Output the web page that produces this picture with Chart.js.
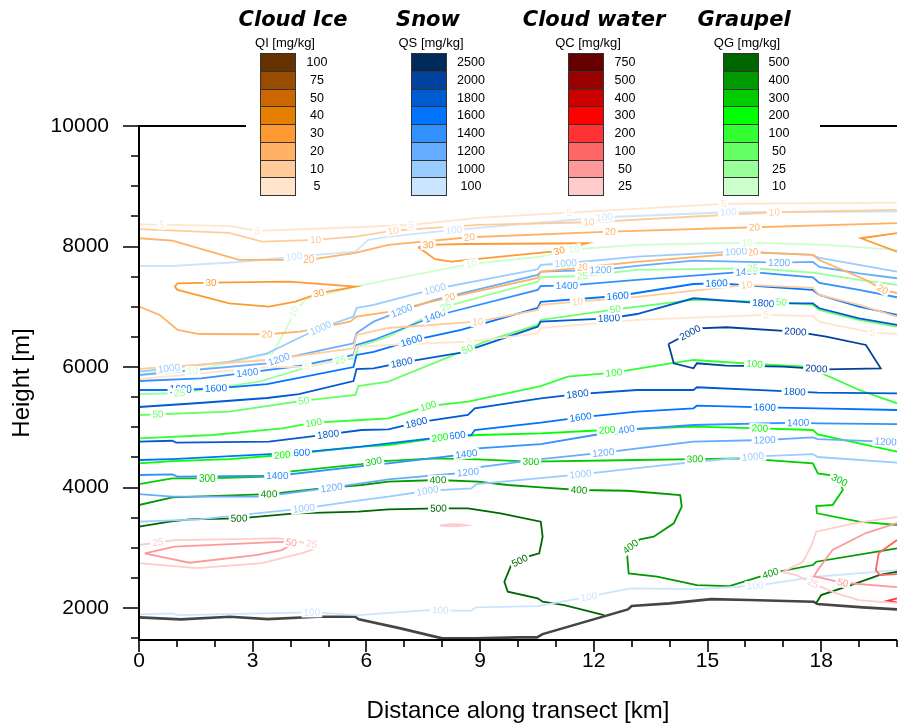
<!DOCTYPE html>
<html>
<head>
<meta charset="utf-8">
<title>Hydrometeor cross-section</title>
<script src="https://cdn.jsdelivr.net/npm/chart.js@4.4.1/dist/chart.umd.min.js"></script>
<style>
  html, body { margin: 0; padding: 0; background: #fff; }
  #wrap { position: relative; width: 901px; height: 726px; overflow: hidden; }
  #xsec { position: absolute; left: 0; top: 0; }
  #cover { position: absolute; left: 246px; top: 0; width: 574px; height: 199px; background: #fff; }
  .kt { position: absolute; font: italic bold 21px 'DejaVu Sans', sans-serif; line-height: 21px; white-space: nowrap; transform: translateX(-50%); color: #000; }
  .ku { position: absolute; font: 13px 'Liberation Sans', Arial, sans-serif; line-height: 13px; white-space: nowrap; transform: translateX(-50%); color: #000; }
  .kb { position: absolute; width: 36px; box-sizing: border-box; border: 1px solid #333; }
  .kl { position: absolute; font: 12.5px 'Liberation Sans', Arial, sans-serif; white-space: nowrap; transform: translateX(-50%); color: #000; }
</style>
</head>
<body>
<div id="wrap">
  <canvas id="xsec" width="901" height="726"></canvas>
  <div id="cover"></div>
</div>
<script>
// -----------------------------
// - Levels and colours (legend order, top to bottom)
// -----------------------------
const qiLevels = [100, 75, 50, 40, 30, 20, 10, 5];
const qiColors = ['#663300', '#994c00', '#cc6600', '#e67e00', '#ff9933', '#ffb266', '#ffcc99', '#ffe5cc'];
const qsLevels = [2500, 2000, 1800, 1600, 1400, 1200, 1000, 100];
const qsColors = ['#002a5c', '#00429d', '#005ad0', '#0073ff', '#3391ff', '#66adff', '#99ccff', '#cce5ff'];
const qcLevels = [750, 500, 400, 300, 200, 100, 50, 25];
const qcColors = ['#660000', '#990000', '#cc0000', '#ff0000', '#ff3333', '#ff6666', '#ff9999', '#ffcccc'];
const qgLevels = [500, 400, 300, 200, 100, 50, 25, 10];
const qgColors = ['#006600', '#009900', '#00cc00', '#00ff00', '#33ff33', '#66ff66', '#99ff99', '#ccffcc'];

// axis ticks: labelled (major) and all tick marks
const xTicks = [0, 3, 6, 9, 12, 15, 18];
const xAllTicks = [0, 1, 2, 3, 4, 5, 6, 7, 8, 9, 10, 11, 12, 13, 14, 15, 16, 17, 18, 19, 20];
const yTicks = [2000, 4000, 6000, 8000, 10000];
const yAllTicks = [1500, 2000, 2500, 3000, 3500, 4000, 4500, 5000, 5500, 6000, 6500, 7000, 7500, 8000, 8500, 9000, 9500, 10000];

// -----------------------------
// - Contour lines, [km, m] pairs
// -----------------------------
const terrain = [[0,1846],[1.1,1812],[2.4,1856],[3.4,1817],[4.7,1856],[5.7,1856],[5.8,1812],[6.9,1663],[8,1497],[8.9,1497],[10,1514],[10.5,1514],[10.65,1568],[12.9,1978],[13,2033],[14,2078],[15.1,2149],[16.1,2133],[17.8,2105],[17.9,2066],[19.1,2012],[20,1978]];

// cloud ice
const qi5Top = [[0,8369],[2.38,8341],[3.12,8258],[5.71,8320],[7.19,8358],[8.94,8474],[11.35,8562],[15.43,8706],[20,8730]];
const qi5TopLab = [[0.6,8365],[3.12,8258],[7.19,8358],[11.35,8562],[15.43,8706]];
const qi10Top = [[0,8287],[2.38,8225],[3.25,8081],[4.66,8109],[5.71,8163],[6.71,8263],[8.94,8358],[11.87,8403],[16.76,8569],[20,8607]];
const qi10TopLab = [[4.66,8109],[6.71,8263],[11.87,8403],[16.76,8569]];
const qi20Top = [[0,8137],[0.88,8097],[2.64,7777],[4.48,7777],[5.71,7893],[6.58,8026],[8.72,8154],[12.44,8247],[16.24,8320],[20,8387]];
const qi20TopLab = [[4.48,7777],[8.72,8154],[12.44,8247],[16.24,8320]];
const qi30Left = [[0.94,7334],[1.02,7390],[1.9,7400],[3.96,7417],[5.71,7334],[4.74,7223],[4.13,7085],[3.43,7002],[2.38,7058],[1.02,7279],[0.94,7334]];
const qi30LeftLab = [[1.9,7400],[4.74,7223]];
const qi30Mid = [[7.37,7988],[7.59,8026],[8.68,8042],[11.83,8054],[11.09,7926],[9.55,7832],[8.24,7749],[7.81,7789],[7.37,7988]];
const qi30MidLab = [[7.63,8010],[11.09,7926]];
const qi30Right = [[20,8221],[19.05,8137],[20,7915]];
const qi20Low = [[0,7002],[0.55,6864],[1.02,6615],[1.59,6548],[3.38,6544],[4.26,6587],[5.57,6753],[5.74,6836],[6.58,6914],[8.2,7158],[10.52,7478],[10.6,7578],[11.7,7656],[13.14,7744],[16.2,7905],[17.78,7860],[17.95,7777],[19.18,7445],[19.62,7290],[20,7224]];
const qi20LowLab = [[3.38,6544],[8.2,7158],[11.7,7656],[16.2,7905],[19.62,7290]];
const qi10Low = [[0,5967],[3.39,6117],[5.66,6311],[5.74,6532],[6.58,6648],[8.94,6753],[10.52,6947],[10.6,7030],[11.57,7085],[13.14,7163],[16.03,7362],[17.78,7312],[17.95,7196],[19,7030],[20,6836]];
const qi10LowLab = [[8.94,6753],[11.57,7085],[16.03,7362]];
const qi5Low = [[0,5801],[3.38,5996],[4.43,6006],[5.66,6167],[5.74,6333],[6.58,6366],[8.72,6421],[10.52,6560],[10.6,6648],[13.14,6781],[16.55,6864],[17.78,6847],[17.95,6748],[19.35,6570],[20,6548]];
const qi5LowLab = [[4.43,6006],[8.72,6421],[16.55,6864],[19.35,6570]];

// snow
const qs100Top = [[0,7677],[0.88,7677],[2.64,7743],[4.09,7832],[5.71,7915],[6.05,8109],[6.58,8164],[8.31,8275],[12.28,8486],[15.55,8569],[20,8579]];
const qs100TopLab = [[4.09,7832],[8.31,8275],[12.28,8486],[15.55,8569]];
const qs1000Top = [[0,5923],[2.38,6089],[3.38,6228],[4.48,6560],[4.79,6648],[5.66,6836],[5.74,6980],[6.19,7030],[7.81,7295],[10.52,7622],[10.6,7694],[11.26,7722],[13.14,7832],[15.75,7915],[17.78,7860],[17.95,7810],[19,7694],[20,7583]];
const qs1000TopLab = [[0.8,5930],[4.79,6648],[7.81,7295],[11.26,7722],[15.75,7915]];
const qs1200Top = [[0,5868],[3.39,6062],[3.69,6128],[5.66,6394],[5.74,6565],[6.19,6753],[6.93,6935],[7.81,7113],[10.52,7528],[10.6,7583],[12.18,7611],[13.14,7677],[14.63,7765],[16.89,7732],[17.78,7744],[17.95,7661],[19,7556],[20,7473]];
const qs1200TopLab = [[3.69,6128],[6.93,6935],[12.18,7611],[16.89,7732]];
const qs1400Top = [[0,5768],[1.64,5813],[2.86,5906],[4.22,6017],[5.66,6200],[5.74,6366],[6.19,6449],[7.81,6847],[10.52,7279],[10.6,7345],[11.29,7350],[13.14,7445],[16.03,7583],[17.78,7490],[17.95,7395],[19,7279],[20,7158]];
const qs1400TopLab = [[2.86,5906],[7.81,6847],[11.29,7350],[16.03,7583]];
const qs1600Top = [[0,5619],[1.1,5619],[2.03,5647],[3.38,5718],[5.66,6000],[5.74,6200],[6.19,6250],[7.19,6437],[8.5,6615],[10.52,6980],[10.6,7080],[12.63,7179],[14.63,7378],[15.24,7390],[17.78,7279],[17.95,7196],[19,7002],[20,6864]];
const qs1600TopLab = [[1.1,5619],[2.03,5647],[7.19,6437],[12.63,7179],[15.24,7390]];
const qs1800Top = [[0,5337],[1.59,5403],[3.38,5486],[4.22,5552],[5.66,5768],[5.74,5967],[6.19,5979],[6.93,6072],[8.5,6238],[10.52,6670],[10.6,6753],[12.4,6809],[13.14,6880],[14.63,7141],[16.47,7058],[17.78,7058],[17.95,6975],[19,6809],[20,6698]];
const qs1800TopLab = [[6.93,6072],[12.4,6809],[16.47,7058]];
const qs2000 = [[13.97,6382],[14.54,6570],[14.76,6643],[15.5,6660],[17.32,6587],[18.13,6504],[19.18,6366],[19.57,5979],[18.13,5962],[16.99,6006],[15.5,6022],[14.72,6062],[14.63,5979],[14.11,6062],[13.97,6382]];
const qs2000Lab = [[14.54,6570],[17.32,6587],[17.87,5962]];
const qs1800Low = [[0,4761],[0.88,4777],[0.98,4744],[3.43,4761],[4.13,4817],[4.99,4883],[5.87,4955],[6.58,4966],[7.32,5076],[8.68,5204],[8.86,5315],[10.6,5481],[11.57,5552],[13.14,5619],[14.63,5619],[14.72,5664],[17.3,5591],[17.91,5574],[20,5564]];
const qs1800LowLab = [[4.99,4883],[7.32,5076],[11.57,5552],[17.3,5591]];
const qs1600Low = [[0,4457],[0.88,4473],[4.22,4578],[5.87,4678],[6.58,4734],[8.33,4860],[8.77,4872],[8.86,4955],[10.6,5076],[11.65,5166],[13.14,5259],[14.63,5315],[14.72,5358],[16.51,5332],[17.91,5315],[20,5287]];
const qs1600LowLab = [[4.22,4578],[8.33,4860],[11.65,5166],[16.51,5332]];
const qs1400Low = [[0,4208],[0.88,4219],[1.02,4180],[3.65,4196],[5.87,4357],[6.58,4402],[8.64,4556],[8.94,4651],[10.6,4722],[12.79,4955],[14.63,5038],[17.39,5076],[17.91,5066],[20,5054]];
const qs1400LowLab = [[3.65,4196],[8.64,4556],[12.79,4955],[17.39,5076]];
const qs1200Low = [[0,3892],[0.88,3848],[3.25,3848],[5.08,3997],[6.58,4136],[8.68,4253],[8.94,4336],[10.6,4473],[12.25,4578],[14.63,4761],[16.51,4789],[17.78,4834],[17.91,4805],[19.7,4761],[20,4761]];
const qs1200LowLab = [[5.08,3997],[8.68,4253],[12.25,4578],[16.51,4789],[19.7,4761]];
const qs1000Low = [[0,3434],[1.59,3473],[4.35,3655],[5.87,3793],[6.58,3848],[7.61,3947],[8.77,3987],[8.9,4058],[11.65,4219],[13.14,4324],[14.63,4424],[16.2,4512],[17.78,4556],[17.91,4507],[20,4412]];
const qs1000LowLab = [[4.35,3655],[7.61,3947],[11.65,4219],[16.2,4512]];
const qs100Low = [[0,1895],[0.88,1912],[1.02,1884],[4.56,1929],[5.79,1884],[7.63,1967],[8.76,1955],[8.89,2012],[10.52,2033],[11.87,2188],[12.96,2327],[14.72,2315],[16.26,2370],[17.87,2520],[20,2631]];
const qs100LowLab = [[4.56,1929],[7.95,1963],[11.87,2188],[16.26,2370]];

// graupel
const qg10 = [[0,5923],[1.41,5934],[3.52,6228],[3.87,6615],[4.09,6919],[4.39,7113],[5.71,7334],[6.58,7445],[8.77,7710],[10.6,7832],[11.48,7955],[13.14,8026],[16.05,8064],[18.13,8026],[20,7943]];
const qg10Lab = [[1.41,5934],[4.09,6919],[8.77,7710],[11.48,7955],[16.05,8064]];
const qg25 = [[0,5552],[1.07,5569],[3.17,5757],[4.66,6034],[5.31,6117],[5.71,6145],[5.79,6338],[6.58,6504],[8.1,7002],[9.12,7179],[10.52,7417],[10.6,7490],[11.7,7511],[13.14,7611],[16.19,7639],[17.78,7566],[19,7445],[20,7362]];
const qg25Lab = [[1.07,5569],[5.31,6117],[8.1,7002],[11.7,7511],[16.19,7639]];
const qg50 = [[0,5204],[2.38,5259],[4.35,5441],[5.71,5536],[5.79,5685],[6.58,5757],[8.42,6228],[9.12,6421],[10.52,6698],[10.6,6781],[12.57,6958],[14.63,7113],[16.95,7075],[17.78,7030],[17.95,6947],[19,6781],[20,6670]];
const qg50Lab = [[0.5,5210],[4.35,5441],[8.68,6271],[12.57,6958],[16.95,7075]];
const qg100 = [[0,4817],[1.94,4872],[3.78,4983],[4.61,5076],[5.87,5121],[6.58,5149],[7.63,5353],[8.68,5425],[10.6,5685],[11.31,5840],[12.53,5906],[14.02,6062],[14.63,6117],[16.24,6050],[17.6,6006],[18.3,5818],[19,5619],[20,5398]];
const qg100Lab = [[4.61,5076],[7.63,5353],[12.53,5906],[16.24,6050]];
const qg200 = [[0,4402],[0.88,4440],[2.38,4473],[3.78,4540],[5.87,4678],[6.58,4706],[7.94,4827],[8.94,4872],[10.6,4900],[12.35,4955],[14.63,5010],[16.38,4983],[17.78,4955],[17.91,4883],[19,4734],[20,4595]];
const qg200Lab = [[3.78,4540],[7.94,4827],[12.35,4955],[16.38,4983]];
const qg300 = [[0,4058],[0.88,4153],[1.8,4153],[3.43,4180],[3.96,4263],[5.87,4390],[6.19,4429],[7.81,4485],[8.94,4468],[10.34,4429],[13.14,4457],[14.67,4473],[15.94,4485],[17.78,4402],[17.91,4236],[18.22,4208],[18.48,4125],[18.57,3959],[18.3,3710],[17.87,3693],[17.89,3572],[19,3433],[20,3378]];
const qg300Lab = [[1.8,4153],[6.19,4429],[10.34,4429],[14.67,4473],[18.48,4125]];
const qg400 = [[0,3710],[0.88,3838],[3.43,3892],[4.82,3987],[5.87,4042],[6.58,4097],[7.89,4125],[8.94,4097],[9.73,4042],[10.6,4004],[11.61,3959],[12.88,3947],[14.28,3876],[14.32,3682],[14.11,3406],[13.58,3184],[13.22,3140],[12.97,3018],[12.88,2880],[12.92,2576],[13.67,2520],[14.72,2382],[15.58,2365],[16.66,2576],[17.78,2714],[17.87,2769],[20,2991]];
const qg400Lab = [[3.43,3892],[7.89,4125],[11.61,3959],[12.97,3018],[16.66,2576]];
const qg500 = [[0,3350],[0.81,3433],[1.33,3473],[2.64,3489],[4.13,3572],[5.79,3599],[6.58,3638],[7.9,3655],[8.68,3655],[9.54,3572],[10.6,3433],[10.65,3184],[10.56,2908],[10.3,2863],[9.82,2714],[9.64,2437],[9.73,2271],[10.52,2161],[10.65,2105],[11.22,2050],[12.27,1884]];
const qg500Lab = [[2.64,3489],[7.9,3655],[10.04,2797]];
const qg500Right = [[17.87,2083],[18,2216],[18.92,2410],[19.53,2548],[20,2603]];

// cloud water
const qc25Left = [[0,3046],[0.94,3129],[3.69,3157],[4.55,3062],[4.7,2996],[4.3,2913],[3.25,2747],[1.52,2664],[0,2747]];
const qc25LeftLab = [[0.5,3085],[4.55,3062]];
const qc50Left = [[0.15,2908],[0.94,3018],[3.87,3101],[4.09,3079],[3.77,2963],[3.08,2880],[1.33,2752],[0.15,2908]];
const qc50LeftLab = [[4.02,3085]];
const qc25Blob = [[7.94,3373],[8.2,3392],[8.5,3390],[8.64,3373],[8.4,3358],[8.1,3360],[7.94,3373]];
const qc25Right = [[20,3511],[18.9,3411],[17.87,3267],[17.75,3050],[17.52,2769],[16.99,2600],[17.34,2548],[17.78,2410],[18.39,2249],[18.99,2133],[20,2083]];
const qc25RightLab = [[17.78,2410]];
const qc50Right = [[20,3411],[19.18,3245],[18.3,2963],[17.91,2631],[17.81,2531],[18.57,2420],[20,2349]];
const qc50RightLab = [[18.57,2420]];
const qc100Right = [[20,3129],[19.52,2913],[19.44,2631],[19.55,2548],[20,2564]];
const qc200Right = [[20,2160],[19.75,2120],[20,2095]];

// -----------------------------
// - Bind lines to species/levels
// -----------------------------
const palette = {
  qi: [qiLevels, qiColors], qs: [qsLevels, qsColors],
  qc: [qcLevels, qcColors], qg: [qgLevels, qgColors]
};
function colorOf(sp, level) {
  const [lv, col] = palette[sp];
  return col[lv.indexOf(level)];
}

const contours = [
  ['qc', 25, qc25Left, qc25LeftLab], ['qc', 50, qc50Left, qc50LeftLab], ['qc', 25, qc25Blob, null],
  ['qc', 25, qc25Right, qc25RightLab], ['qc', 50, qc50Right, qc50RightLab], ['qc', 100, qc100Right, null],
  ['qc', 200, qc200Right, null],
  ['qi', 5, qi5Top, qi5TopLab], ['qi', 10, qi10Top, qi10TopLab], ['qi', 20, qi20Top, qi20TopLab],
  ['qi', 30, qi30Left, qi30LeftLab], ['qi', 30, qi30Mid, qi30MidLab], ['qi', 30, qi30Right, null],
  ['qi', 20, qi20Low, qi20LowLab], ['qi', 10, qi10Low, qi10LowLab], ['qi', 5, qi5Low, qi5LowLab],
  ['qs', 100, qs100Top, qs100TopLab], ['qs', 1000, qs1000Top, qs1000TopLab], ['qs', 1200, qs1200Top, qs1200TopLab],
  ['qs', 1400, qs1400Top, qs1400TopLab], ['qs', 1600, qs1600Top, qs1600TopLab], ['qs', 1800, qs1800Top, qs1800TopLab],
  ['qs', 2000, qs2000, qs2000Lab],
  ['qs', 1800, qs1800Low, qs1800LowLab], ['qs', 1600, qs1600Low, qs1600LowLab], ['qs', 1400, qs1400Low, qs1400LowLab],
  ['qs', 1200, qs1200Low, qs1200LowLab], ['qs', 1000, qs1000Low, qs1000LowLab], ['qs', 100, qs100Low, qs100LowLab],
  ['qg', 10, qg10, qg10Lab], ['qg', 25, qg25, qg25Lab], ['qg', 50, qg50, qg50Lab], ['qg', 100, qg100, qg100Lab],
  ['qg', 200, qg200, qg200Lab], ['qg', 300, qg300, qg300Lab], ['qg', 400, qg400, qg400Lab],
  ['qg', 500, qg500, qg500Lab], ['qg', 500, qg500Right, null]
].map(([sp, level, points, labels]) => ({ level, points, labels, color: colorOf(sp, level) }));

const datasets = contours.map(c => ({
  data: c.points, showLine: true, borderColor: c.color, borderWidth: 1.8,
  pointRadius: 0, fill: false, tension: 0
}));
datasets.push({ data: terrain, showLine: true, borderColor: '#454545', borderWidth: 2.6, pointRadius: 0, fill: false, tension: 0 });

// -----------------------------
// - Inline contour labels
// -----------------------------
const lineLabels = {
  id: 'lineLabels',
  afterDatasetsDraw(chart) {
    const { ctx, chartArea: a, scales: { x, y } } = chart;
    ctx.save();
    ctx.beginPath();
    ctx.rect(a.left, a.top, a.right - a.left, a.bottom - a.top);
    ctx.clip();
    ctx.font = '10px "Liberation Sans", Arial, sans-serif';
    ctx.textAlign = 'center';
    ctx.textBaseline = 'middle';
    contours.forEach(c => {
      if (!c.labels) return;
      const pts = c.points.map(p => [x.getPixelForValue(p[0]), y.getPixelForValue(p[1])]);
      c.labels.forEach(l => {
        const lx = x.getPixelForValue(l[0]), ly = y.getPixelForValue(l[1]);
        let best = null;
        for (let i = 0; i < pts.length - 1; i++) {
          const [x0, y0] = pts[i], [x1, y1] = pts[i + 1];
          const dx = x1 - x0, dy = y1 - y0, len2 = dx * dx + dy * dy || 1;
          let t = ((lx - x0) * dx + (ly - y0) * dy) / len2;
          t = Math.max(0, Math.min(1, t));
          const qx = x0 + t * dx, qy = y0 + t * dy;
          const d = (qx - lx) * (qx - lx) + (qy - ly) * (qy - ly);
          if (!best || d < best.d) best = { d, qx, qy, ang: Math.atan2(dy, dx) };
        }
        let ang = best.ang;
        if (ang > Math.PI / 2) ang -= Math.PI;
        if (ang < -Math.PI / 2) ang += Math.PI;
        const txt = String(c.level);
        const w = ctx.measureText(txt).width;
        ctx.save();
        ctx.translate(best.qx, best.qy);
        ctx.rotate(ang);
        ctx.fillStyle = '#fff';
        ctx.fillRect(-w / 2 - 2, -5, w + 4, 10);
        ctx.fillStyle = c.color;
        ctx.fillText(txt, 0, 0.5);
        ctx.restore();
      });
    });
    ctx.restore();
  }
};

// -----------------------------
// - Frame and outward tick marks
// -----------------------------
const frame = {
  id: 'frame',
  afterDraw(chart) {
    const { ctx, chartArea: a, scales: { x, y } } = chart;
    ctx.save();
    ctx.strokeStyle = '#000';
    ctx.lineWidth = 2;
    ctx.beginPath();
    ctx.moveTo(a.right, a.top); ctx.lineTo(a.left, a.top);
    ctx.lineTo(a.left, a.bottom); ctx.lineTo(a.right, a.bottom);
    ctx.stroke();
    ctx.lineWidth = 1.6;
    ctx.beginPath();
    x.ticks.forEach(t => {
      const px = Math.round(x.getPixelForValue(t.value));
      const len = xTicks.includes(t.value) ? 12 : 7;
      ctx.moveTo(px, a.bottom); ctx.lineTo(px, a.bottom + len);
    });
    y.ticks.forEach(t => {
      const py = Math.round(y.getPixelForValue(t.value));
      const len = yTicks.includes(t.value) ? 16 : 8;
      ctx.moveTo(a.left, py); ctx.lineTo(a.left - len, py);
    });
    ctx.stroke();
    ctx.restore();
  }
};

const axisFont = { family: "'Liberation Sans', Arial, sans-serif", size: 21 };
const clear = 'rgba(0,0,0,0)';

new Chart(document.getElementById('xsec'), {
  type: 'scatter',
  data: { datasets },
  options: {
    responsive: false,
    animation: false,
    devicePixelRatio: 1,
    layout: { padding: { top: 126, right: 0, left: 0, bottom: 0 } },
    plugins: { legend: { display: false }, tooltip: { enabled: false } },
    scales: {
      x: {
        type: 'linear', min: 0, max: 20,
        afterBuildTicks: s => { s.ticks = xAllTicks.map(v => ({ value: v })); },
        afterFit: s => { s.height = 86; },
        border: { display: false },
        grid: { drawOnChartArea: false, drawTicks: true, tickLength: 5, color: clear, tickColor: clear },
        ticks: {
          autoSkip: false, maxRotation: 0, padding: 4, color: '#000', font: axisFont,
          callback: v => xTicks.includes(v) ? String(v) : ''
        },
        title: { display: true, text: 'Distance along transect [km]', color: '#000',
                 font: { family: axisFont.family, size: 24 }, padding: { top: 0, bottom: 0 } }
      },
      y: {
        type: 'linear', min: 1470, max: 10000,
        afterBuildTicks: s => { s.ticks = yAllTicks.map(v => ({ value: v })); },
        afterFit: s => { s.width = 139; },
        border: { display: false },
        grid: { drawOnChartArea: false, drawTicks: true, tickLength: 17, color: clear, tickColor: clear },
        ticks: {
          autoSkip: false, padding: 13, color: '#000', font: axisFont,
          callback: v => yTicks.includes(v) ? String(v) : ''
        },
        title: { display: true, text: 'Height [m]', color: '#000',
                 font: { family: axisFont.family, size: 24 }, padding: { top: 8, bottom: 0 } }
      }
    }
  },
  plugins: [lineLabels, frame]
});

// -----------------------------
// - Label bars above the plot
// -----------------------------
const bars = [
  { title: 'Cloud Ice', unit: 'QI [mg/kg]', levels: qiLevels, colors: qiColors },
  { title: 'Snow', unit: 'QS [mg/kg]', levels: qsLevels, colors: qsColors },
  { title: 'Cloud water', unit: 'QC [mg/kg]', levels: qcLevels, colors: qcColors },
  { title: 'Graupel', unit: 'QG [mg/kg]', levels: qgLevels, colors: qgColors }
];
const barLeft = [260, 411, 568, 723];
const titleMid = [293, 428, 594, 744];
const unitMid = [285, 431, 588, 747];
const labelMid = [317, 471, 625, 779];

const wrap = document.getElementById('wrap');
function put(cls, text, left, top, extra) {
  const el = document.createElement('div');
  el.className = cls;
  el.textContent = text;
  el.style.left = left + 'px';
  el.style.top = top + 'px';
  Object.assign(el.style, extra || {});
  wrap.appendChild(el);
  return el;
}
bars.forEach((b, k) => {
  put('kt', b.title, titleMid[k], 9);
  put('ku', b.unit, unitMid[k], 36);
  b.levels.forEach((lv, i) => {
    const top = Math.round(53 + i * 17.75);
    const next = Math.round(53 + (i + 1) * 17.75);
    const h = next - top + 1;
    put('kb', '', barLeft[k], top, { height: h + 'px', background: b.colors[i] });
    put('kl', String(lv), labelMid[k], top, { height: h + 'px', lineHeight: h + 'px' });
  });
});
</script>
</body>
</html>
